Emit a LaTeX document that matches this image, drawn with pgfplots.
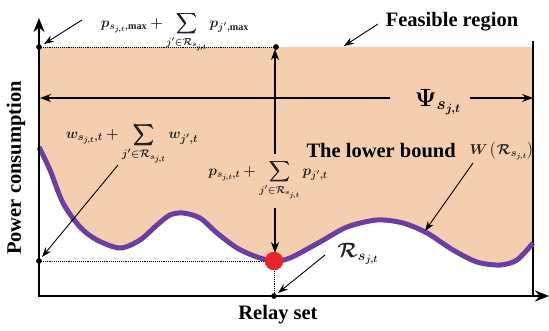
\documentclass[border=0pt]{standalone}
\usepackage{pgfplots}
\pgfplotsset{compat=1.18}
\usepgfplotslibrary{fillbetween}
\usetikzlibrary{arrows.meta}
\usepackage{amsmath}
\usepackage{bm}
\usepackage{fontspec}
\setmainfont{Liberation Serif}
\definecolor{peach}{HTML}{F3CFAF}
\definecolor{curvepurple}{HTML}{6A3FA0}
\definecolor{reddot}{HTML}{E8262A}
\definecolor{txt}{HTML}{222222}
\pgfplotstableread{
x y
39 183
50 160
63 127
80 103
97 90
120 82
140 90
157 105
170 115
183 117
200 112
217 97
237 82
257 73
274 69
290 72
320 88
347 103
377 110
403 107
427 97
453 80
477 68
500 65
517 70
533 87
}\lowerbound
\begin{document}
\begin{tikzpicture}
\begin{axis}[width=549pt,height=330pt,scale only axis,
  xmin=0,xmax=549,ymin=0,ymax=330,hide axis,clip=false,
  every node/.append style={inner sep=0pt}]
% feasible region between top bound and lower bound curve
\addplot[name path=top,draw=none] coordinates {(39,283) (533,283)};
\addplot[name path=curve,draw=none,smooth] table[x=x,y=y] {\lowerbound};
\addplot[peach] fill between[of=top and curve];
% right border
\draw[black,line width=1.2pt] (axis cs:533,34) -- (axis cs:533,289);
% lower bound curve
\addplot[curvepurple,line width=5pt,smooth] table[x=x,y=y] {\lowerbound};
% dotted guides
\addplot[black,densely dotted,line width=0.9pt] coordinates {(39,283) (276,283)};
\addplot[black,densely dotted,line width=0.9pt] coordinates {(39,69) (274,69) (274,34)};
% axes
\draw[line width=2.6pt,-{Stealth[length=14pt,width=11pt]}] (axis cs:39,34) -- (axis cs:39,312);
\draw[line width=2.6pt,-{Stealth[length=14pt,width=11pt]}] (axis cs:38,34) -- (axis cs:549,34);
% Psi arrows
\draw[line width=1.1pt,-{Stealth[length=11pt,width=8pt]}] (axis cs:390,232) -- (axis cs:40,232);
\draw[line width=1.1pt,-{Stealth[length=11pt,width=8pt]}] (axis cs:470,232) -- (axis cs:533,232);
% vertical arrows
\draw[line width=1.1pt,-{Stealth[length=11pt,width=8pt]}] (axis cs:275,176) -- (axis cs:275,281);
\draw[line width=1.1pt,-{Stealth[length=11pt,width=8pt]}] (axis cs:275,122) -- (axis cs:275,77);
% pointer arrows
\draw[line width=0.9pt,-{Stealth[length=10pt,width=7pt]}] (axis cs:82,310) -- (axis cs:44,286);
\draw[line width=0.9pt,-{Stealth[length=10pt,width=7pt]}] (axis cs:378,306) -- (axis cs:344,284);
\draw[line width=0.9pt,-{Stealth[length=10pt,width=7pt]}] (axis cs:118,165) -- (axis cs:42,73);
\draw[line width=0.9pt,-{Stealth[length=10pt,width=7pt]}] (axis cs:473,167) -- (axis cs:425,99);
\draw[line width=0.9pt,-{Stealth[length=10pt,width=7pt]}] (axis cs:325,75) -- (axis cs:278,37);
% points
\addplot[only marks,mark=*,mark size=2.6pt,black] coordinates {(39,283) (276,283) (39,69) (274,34)};
\addplot[only marks,mark=*,mark size=9pt,reddot] coordinates {(274,69)};
% labels
\node[txt,font=\fontsize{14.5}{16}\selectfont] at (axis cs:175,298)
  {$\bm{p_{s_{j,t},\max} + \displaystyle\sum_{j'\in\mathcal{R}_{s_{j,t}}} p_{j',\max}}$};
\node[font=\bfseries\fontsize{20.5}{23}\selectfont] at (axis cs:452,308) {Feasible region};
\node[font=\fontsize{26}{30}\selectfont] at (axis cs:438,228) {$\bm{\Psi_{s_{j,t}}}$};
\node[txt,font=\fontsize{15.5}{17}\selectfont] at (axis cs:132,186)
  {$\bm{w_{s_{j,t},t} + \displaystyle\sum_{j'\in\mathcal{R}_{s_{j,t}}} w_{j',t}}$};
\node[txt,font=\fontsize{14.5}{16}\selectfont] at (axis cs:268,150)
  {$\bm{p_{s_{j,t},t} + \displaystyle\sum_{j'\in\mathcal{R}_{s_{j,t}}} p_{j',t}}$};
\node[font=\bfseries\fontsize{20.5}{23}\selectfont,anchor=west] at (axis cs:303,179) {The lower bound};
\node[txt,font=\fontsize{15}{17}\selectfont,anchor=west] at (axis cs:466,179) {$\bm{W\left(\mathcal{R}_{s_{j,t}}\right)}$};
\node[txt,font=\fontsize{20}{22}\selectfont] at (axis cs:358,76) {$\bm{\mathcal{R}_{s_{j,t}}}$};
\node[font=\bfseries\fontsize{20.5}{23}\selectfont,rotate=90] at (axis cs:16,162) {Power consumption};
\node[font=\bfseries\fontsize{20.5}{23}\selectfont] at (axis cs:278,15) {Relay set};
\end{axis}
\pgfresetboundingbox
\useasboundingbox (0,0) rectangle (549pt,330pt);
\end{tikzpicture}
\end{document}
